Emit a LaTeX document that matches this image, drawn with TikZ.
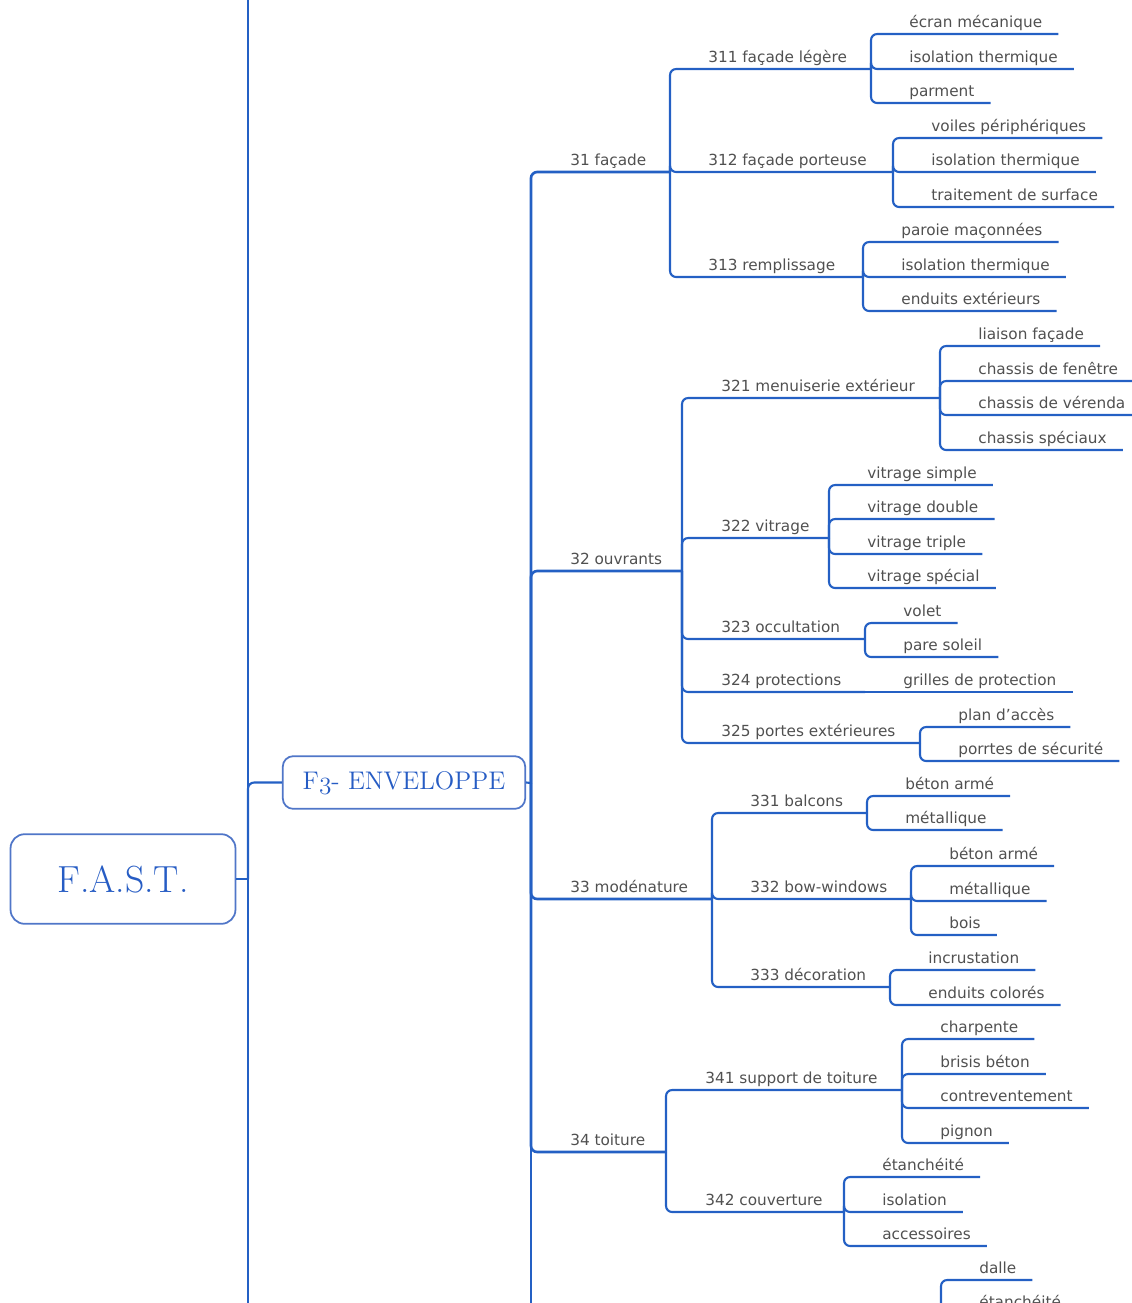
\documentclass[tikz,border=0pt]{standalone}
\usepackage{fontspec}
\setsansfont{DejaVu Sans}
\definecolor{lineblue}{RGB}{36,96,196}
\definecolor{boxblue}{RGB}{80,118,200}
\definecolor{txtblue}{RGB}{38,92,196}
\definecolor{txtgray}{RGB}{80,80,80}

\begin{document}
\begin{tikzpicture}[
	x=0.02cm, y=-0.02cm,
	every node/.style={inner sep=0pt},
	mainbox/.style={draw=boxblue, line width=1pt, rounded corners=6pt, fill=white, text=txtblue},
	branch/.style={draw=lineblue, line width=1.2pt, rounded corners=3.5pt},
	trunk/.style={branch, line width=1.5pt},
	fn/.style={anchor=south west, font=\sffamily\fontsize{8.7}{10}\selectfont, text=txtgray, text height=6.6pt, text depth=2pt, inner ysep=1.4pt}
	]
	\useasboundingbox (0,0) rectangle (1132,1303);
	\clip (0,0) rectangle (1132,1303);
	
	% root and level 1
	\node[mainbox, minimum width=128pt, minimum height=51pt, rounded corners=8pt, font=\fontsize{21.5}{24}\selectfont] (fast) at (123,879) {F.A.S.T.};
	\node[mainbox, minimum width=138pt, minimum height=30pt, font=\fontsize{14.5}{16}\selectfont] (env) at (404,782.5) {F{\usefont{OML}{cmm}{m}{it}3}- ENVELOPPE};
	
	\coordinate (t0) at (248,-20);
	\coordinate (b0) at (248,1330);
	\coordinate (j0) at (248,879);
	\draw[trunk] (t0) -- (b0);
	\draw[branch] (fast.east) -- (j0);
	\draw[branch] (j0) |- (env.west);
	
	\coordinate (j3) at (531,783);
	\coordinate (b3) at (531,1330);
	\draw[branch] (env.east) -- (j3);
	\draw[trunk] (j3) -- (b3);
	
	% level 2
	\node[fn] (f31) at (570,172) {31 façade};
	\node[fn] (f32) at (570,571) {32 ouvrants};
	\node[fn] (f33) at (570,899) {33 modénature};
	\node[fn] (f34) at (570,1152) {34 toiture};
	\coordinate (j31) at (670,172);
	\coordinate (j32) at (682,571);
	\coordinate (j33) at (712,899);
	\coordinate (j34) at (666,1152);
	\foreach \k in {31,32,33,34}
		\draw[trunk] (j3) |- (j\k);
	
	% level 3
	\node[fn] (f311) at (708,69) {311 façade légère};
	\node[fn] (f312) at (708,172) {312 façade porteuse};
	\node[fn] (f313) at (708,277) {313 remplissage};
	\coordinate (j311) at (871,69);
	\coordinate (j312) at (893,172);
	\coordinate (j313) at (863,277);
	
	\node[fn] (f321) at (721,398) {321 menuiserie extérieur};
	\node[fn] (f322) at (721,538) {322 vitrage};
	\node[fn] (f323) at (721,639) {323 occultation};
	\node[fn] (f324) at (721,692) {324 protections};
	\node[fn] (f325) at (721,743) {325 portes extérieures};
	\coordinate (j321) at (940,398);
	\coordinate (j322) at (829,538);
	\coordinate (j323) at (865,639);
	\coordinate (j324) at (865,692);
	\coordinate (j325) at (920,743);
	
	\node[fn] (f331) at (750,813) {331 balcons};
	\node[fn] (f332) at (750,899) {332 bow-windows};
	\node[fn] (f333) at (750,987) {333 décoration};
	\coordinate (j331) at (867,813);
	\coordinate (j332) at (911,899);
	\coordinate (j333) at (890,987);
	
	\node[fn] (f341) at (705,1090) {341 support de toiture};
	\node[fn] (f342) at (705,1212) {342 couverture};
	\coordinate (j341) at (902,1090);
	\coordinate (j342) at (844,1212);
	\coordinate (j351) at (941,1340);
	
	\foreach \k in {311,312,313}
		\draw[branch] (j31) |- (j\k);
	\foreach \k in {321,322,323,324,325}
		\draw[branch] (j32) |- (j\k);
	\foreach \k in {331,332,333}
		\draw[branch] (j33) |- (j\k);
	\foreach \k in {341,342}
		\draw[branch] (j34) |- (j\k);
	
	% level 4
	\foreach \y/\t [count=\i] in {34/écran mécanique, 69/isolation thermique, 103/parment}{
		\node[fn] (l311\i) at (909,\y) {\t};
		\draw[branch] (j311) |- ([xshift=9pt]l311\i.south east);
	}
	\foreach \y/\t [count=\i] in {138/voiles périphériques, 172/isolation thermique, 207/traitement de surface}{
		\node[fn] (l312\i) at (931,\y) {\t};
		\draw[branch] (j312) |- ([xshift=9pt]l312\i.south east);
	}
	\foreach \y/\t [count=\i] in {242/paroie maçonnées, 277/isolation thermique, 311/enduits extérieurs}{
		\node[fn] (l313\i) at (901,\y) {\t};
		\draw[branch] (j313) |- ([xshift=9pt]l313\i.south east);
	}
	\foreach \y/\t [count=\i] in {346/liaison façade, 381/chassis de fenêtre, 415/chassis de vérenda, 450/chassis spéciaux}{
		\node[fn] (l321\i) at (978,\y) {\t};
		\draw[branch] (j321) |- ([xshift=9pt]l321\i.south east);
	}
	\foreach \y/\t [count=\i] in {485/vitrage simple, 519/vitrage double, 554/vitrage triple, 588/vitrage spécial}{
		\node[fn] (l322\i) at (867,\y) {\t};
		\draw[branch] (j322) |- ([xshift=9pt]l322\i.south east);
	}
	\foreach \y/\t [count=\i] in {623/volet, 657/pare soleil}{
		\node[fn] (l323\i) at (903,\y) {\t};
		\draw[branch] (j323) |- ([xshift=9pt]l323\i.south east);
	}
	\node[fn] (l3241) at (903,692) {grilles de protection};
	\draw[branch] (j324) -- ([xshift=9pt]l3241.south east);
	\foreach \y/\t [count=\i] in {727/plan d'accès, 761/porrtes de sécurité}{
		\node[fn] (l325\i) at (958,\y) {\t};
		\draw[branch] (j325) |- ([xshift=9pt]l325\i.south east);
	}
	\foreach \y/\t [count=\i] in {796/béton armé, 830/métallique}{
		\node[fn] (l331\i) at (905,\y) {\t};
		\draw[branch] (j331) |- ([xshift=9pt]l331\i.south east);
	}
	\foreach \y/\t [count=\i] in {866/béton armé, 901/métallique, 935/bois}{
		\node[fn] (l332\i) at (949,\y) {\t};
		\draw[branch] (j332) |- ([xshift=9pt]l332\i.south east);
	}
	\foreach \y/\t [count=\i] in {970/incrustation, 1005/enduits colorés}{
		\node[fn] (l333\i) at (928,\y) {\t};
		\draw[branch] (j333) |- ([xshift=9pt]l333\i.south east);
	}
	\foreach \y/\t [count=\i] in {1039/charpente, 1074/brisis béton, 1108/contreventement, 1143/pignon}{
		\node[fn] (l341\i) at (940,\y) {\t};
		\draw[branch] (j341) |- ([xshift=9pt]l341\i.south east);
	}
	\foreach \y/\t [count=\i] in {1177/étanchéité, 1212/isolation, 1246/accessoires}{
		\node[fn] (l342\i) at (882,\y) {\t};
		\draw[branch] (j342) |- ([xshift=9pt]l342\i.south east);
	}
	\foreach \y/\t [count=\i] in {1280/dalle, 1314/étanchéité}{
		\node[fn] (l351\i) at (979,\y) {\t};
		\draw[branch] (j351) |- ([xshift=9pt]l351\i.south east);
	}
\end{tikzpicture}
\end{document}
